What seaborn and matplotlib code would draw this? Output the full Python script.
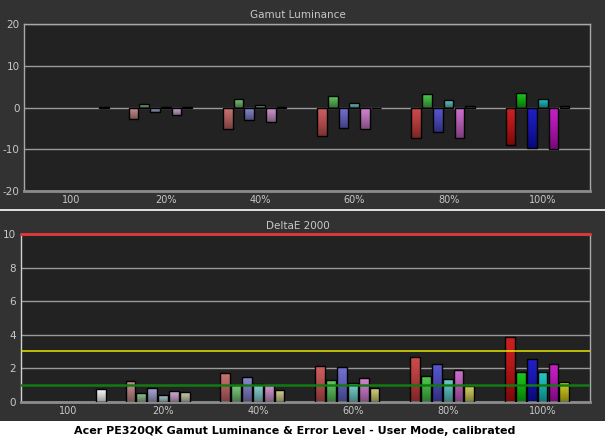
import numpy as np
import pandas as pd
import matplotlib
matplotlib.use("Agg")
import matplotlib.pyplot as plt
import seaborn as sns
from matplotlib.colors import to_rgb
from matplotlib.lines import Line2D
from matplotlib.patches import Rectangle

# categories
groups = ["100", "20%", "40%", "60%", "80%", "100%"]
channels = ["Red", "Green", "Blue", "Cyan", "Magenta", "Yellow", "White"]

# Gamut luminance error, groups 20% .. 100%
lum_red = [-2.7, -5.1, -6.8, -7.25, -9.0]
lum_green = [0.9, 2.1, 2.8, 3.3, 3.5]
lum_blue = [-1.0, -3.0, -4.9, -5.8, -9.7]
lum_cyan = [0.05, 0.55, 1.1, 1.7, 2.15]
lum_magenta = [-1.75, -3.5, -5.1, -7.25, -10.0]
lum_yellow = [0.1, 0.1, 0.0, 0.3, 0.3]
lum_white = 0.05  # only in the "100" group

# DeltaE 2000, groups 20% .. 100%
de_red = [1.21, 1.71, 2.13, 2.66, 3.86]
de_green = [0.52, 1.0, 1.27, 1.51, 1.75]
de_blue = [0.8, 1.47, 2.07, 2.25, 2.54]
de_cyan = [0.38, 1.03, 1.09, 1.33, 1.75]
de_magenta = [0.64, 0.97, 1.41, 1.87, 2.25]
de_yellow = [0.58, 0.7, 0.82, 0.93, 1.17]
de_white = 0.76

# reference levels on the DeltaE chart
de_limit_red = 10
de_limit_yellow = 3.03
de_limit_green = 1.0

# bar colours by saturation step (20% .. 100%)
shades = {
    "Red": ["#c08484", "#c46464", "#c85050", "#c83a3a", "#c80c0c"],
    "Green": ["#84b884", "#6cc06c", "#54c054", "#40c040", "#08c008"],
    "Blue": ["#9c9cc8", "#7c7cc8", "#6464cc", "#4848c8", "#0c0cc0"],
    "Cyan": ["#9cc0c0", "#80c8c8", "#6cc8c8", "#58c4c4", "#10c0c0"],
    "Magenta": ["#c8a0cc", "#c88cc8", "#cc78cc", "#c860c8", "#c00cc0"],
    "Yellow": ["#c0c0a0", "#c8c484", "#c8c46c", "#c8c450", "#c8c410"],
    "White": ["#f2f2f2"],
}

bg = "#323232"
face = "#222222"
txt = "#c8c8c8"


def build(vals, white):
    rows = [("100", "White", white)]
    for ch, v in zip(channels[:6], vals):
        for g, x in zip(groups[1:], v):
            rows.append((g, ch, x))
    return pd.DataFrame(rows, columns=["group", "channel", "value"])


def gradient_bars(ax):
    ylim = ax.get_ylim()
    xlim = ax.get_xlim()
    for ci, cont in enumerate(ax.containers):
        ch = channels[ci]
        for bar in cont:
            gi = int(round(bar.get_x() + bar.get_width() / 2))
            col = shades[ch][0] if ch == "White" else shades[ch][gi - 1]
            c = np.array(to_rgb(col))
            bar.set_zorder(3)
            h = bar.get_height()
            if abs(h) < 0.02:
                bar.set_facecolor("black")
                continue
            bar.set_facecolor("none")
            top = c + (1 - c) * 0.08
            bot = c * 0.62
            t = np.linspace(0, 1, 64)[:, None] ** 1.3
            img = top[None, :] * (1 - t) + bot[None, :] * t
            img = np.repeat(img[:, None, :], 2, axis=1)
            y0 = bar.get_y()
            lo, hi = min(y0, y0 + h), max(y0, y0 + h)
            im = ax.imshow(img, extent=[bar.get_x(), bar.get_x() + bar.get_width(), lo, hi],
                           origin="upper", aspect="auto", zorder=2.5, interpolation="bilinear")
            im.set_clip_path(bar)
    ax.set_ylim(ylim)
    ax.set_xlim(xlim)


def style(ax, yticks):
    ax.set_facecolor(face)
    ax.set_xlabel("")
    ax.set_ylabel("")
    ax.set_yticks(yticks)
    ax.set_xticks(range(len(groups)))
    ax.set_xticklabels(groups)
    ax.set_xticks(np.arange(-0.5, len(groups), 1), minor=True)
    ax.tick_params(axis="x", which="major", length=0, colors=txt, labelsize=7, pad=3)
    ax.tick_params(axis="x", which="minor", length=3, color="#c8c8c8", direction="out", width=0.8)
    ax.tick_params(axis="y", length=3, colors=txt, labelsize=7.5, pad=0.5, width=0.8)
    ax.yaxis.grid(True, color="#9a9a9a", lw=1)
    ax.xaxis.grid(False)
    ax.set_axisbelow(True)
    for s in ax.spines.values():
        s.set_color("#a8a8a8")
        s.set_linewidth(1)
    ax.spines["bottom"].set_color("#8c8c8c")
    ax.spines["bottom"].set_linewidth(2)


sns.set_style("dark")
plt.rcParams["font.family"] = ["DejaVu Sans"]
plt.rcParams["axes.unicode_minus"] = False

fig = plt.figure(figsize=(6.05, 4.41), dpi=100)
fig.patch.set_facecolor(bg)

ax1 = fig.add_axes([24.3 / 605, 1 - 190.7 / 441, 565.7 / 605, 166.4 / 441])
ax2 = fig.add_axes([20.7 / 605, 1 - 401.7 / 441, 569.3 / 605, 167.4 / 441])

lum_df = build([lum_red, lum_green, lum_blue, lum_cyan, lum_magenta, lum_yellow], lum_white)
de_df = build([de_red, de_green, de_blue, de_cyan, de_magenta, de_yellow], de_white)

for ax, df in [(ax1, lum_df), (ax2, de_df)]:
    sns.barplot(data=df, x="group", y="value", hue="channel", order=groups, hue_order=channels,
                palette=[shades[c][-1] for c in channels], width=0.8, gap=0.1,
                edgecolor="black", linewidth=1.0, errorbar=None, legend=False, ax=ax)

ax1.set_ylim(-20, 20)
ax2.set_ylim(0, 10)
style(ax1, [-20, -10, 0, 10, 20])
style(ax2, [0, 2, 4, 6, 8, 10])
gradient_bars(ax1)
gradient_bars(ax2)

ax2.spines["top"].set_visible(False)
ax2.spines["left"].set_color("#d0d0d0")
ax2.axhline(de_limit_red, color="#d83838", lw=2.2, zorder=6, clip_on=False)
ax2.axhline(de_limit_yellow, color="#e8e800", lw=1.1, zorder=5)
ax2.axhline(de_limit_green, color="#137a13", lw=1.8, zorder=5)

fig.text(297.5 / 605, 1 - 15 / 441, "Gamut Luminance", ha="center", va="center", color=txt, fontsize=7.5)
fig.text(297.5 / 605, 1 - 226 / 441, "DeltaE 2000", ha="center", va="center", color=txt, fontsize=7.5)

fig.add_artist(Line2D([0, 1], [1 - 210 / 441, 1 - 210 / 441], color="white", lw=1.2, transform=fig.transFigure))
fig.patches.append(Rectangle((0, 0), 1, 20.5 / 441, transform=fig.transFigure, facecolor="white",
                             edgecolor="none", zorder=0))
fig.text(295 / 605, 1 - 431.5 / 441, "Acer PE320QK Gamut Luminance & Error Level - User Mode, calibrated",
         ha="center", va="center", color="black", fontsize=8, fontweight="bold")

fig.savefig("out.png", dpi=100, facecolor=bg)
